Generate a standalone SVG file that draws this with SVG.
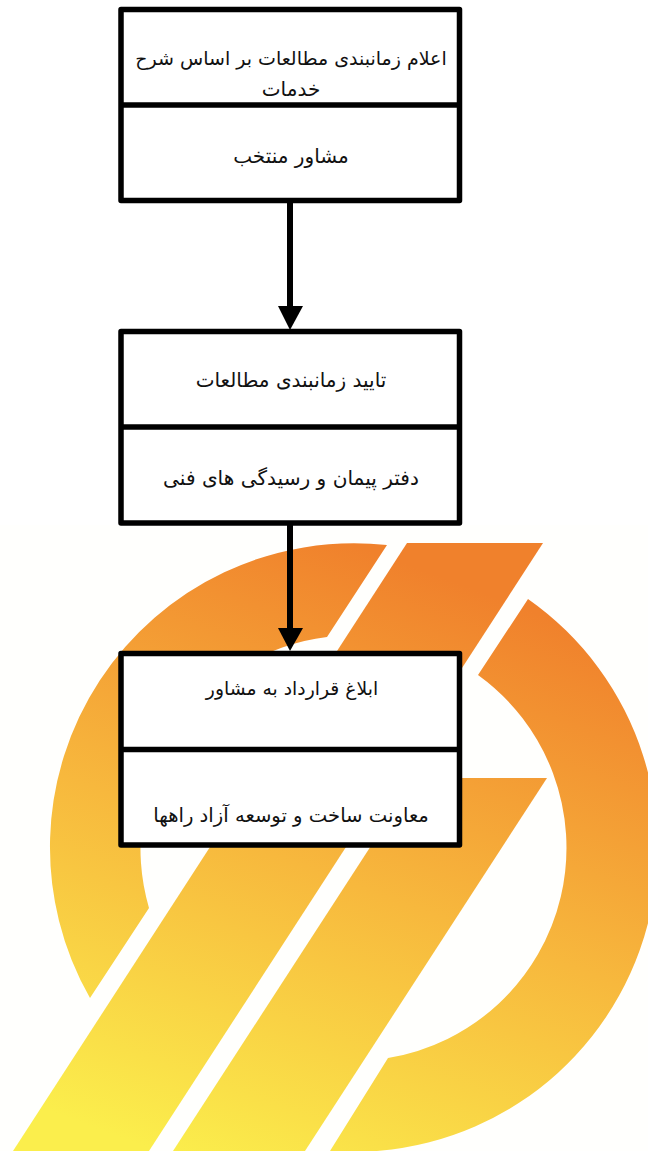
<svg xmlns="http://www.w3.org/2000/svg" width="648" height="1151" viewBox="0 0 648 1151">
<style>
.box{fill:#fff;stroke:#000;stroke-width:5.5;stroke-linejoin:round}
.div{stroke:#000;stroke-width:5.5;fill:none}
.t{font-family:"DejaVu Sans",sans-serif;font-size:20px;fill:#111;text-anchor:middle;direction:rtl}
.c{stroke:#000;stroke-width:6;fill:none}
</style>
<defs>
<linearGradient id="g" gradientUnits="userSpaceOnUse" x1="100" y1="1130" x2="324" y2="533">
<stop offset="0" stop-color="#fbee4c"/><stop offset="0.5" stop-color="#f7b83d"/><stop offset="1" stop-color="#f0812c"/>
</linearGradient>
</defs>
<rect width="648" height="1151" fill="#fff"/>
<rect y="525" width="648" height="626" fill="#fffffd"/>
<g id="logo" fill="url(#g)">
<path d="M387 545A304 304 0 0 0 90 998L149 908A213 213 0 0 1 327 637Z"/>
<path d="M407 543H543L149 1151H13Z"/>
<path d="M415 778H547L305 1151H173Z"/>
<path d="M528 599A304 304 0 0 1 330 1151L388 1058A213 213 0 0 0 478 675Z"/>
</g>
<g id="connectors">
<path class="c" d="M290 202V310"/><path d="M278 306H303L290 330Z"/>
<path class="c" d="M290 524V632"/><path d="M278 628H303L290 651Z"/>
</g>
<g id="node1"><rect class="box" x="121" y="9.500" width="338.500" height="191"/><path class="div" d="M121 105H459.500"/>
<text class="t" x="291" y="64.500" style="font-size:19px">اعلام زمانبندی مطالعات بر اساس شرح</text><text class="t" x="291" y="96">خدمات</text><text class="t" x="291" y="163">مشاور منتخب</text></g>
<g id="node2"><rect class="box" x="121" y="331.500" width="338.500" height="191.500"/><path class="div" d="M121 427H459.500"/>
<text class="t" x="291" y="387">تایید زمانبندی مطالعات</text><text class="t" x="291" y="485" style="font-size:20.100px">دفتر پیمان و رسیدگی های فنی</text></g>
<g id="node3"><rect class="box" x="121" y="653.500" width="338.500" height="191.500"/><path class="div" d="M121 749.500H459.500"/>
<text class="t" x="292" y="695" style="font-size:18.800px">ابلاغ قرارداد به مشاور</text><text class="t" x="291" y="822" style="font-size:19.600px">معاونت ساخت و توسعه آزاد راهها</text></g>
</svg>
